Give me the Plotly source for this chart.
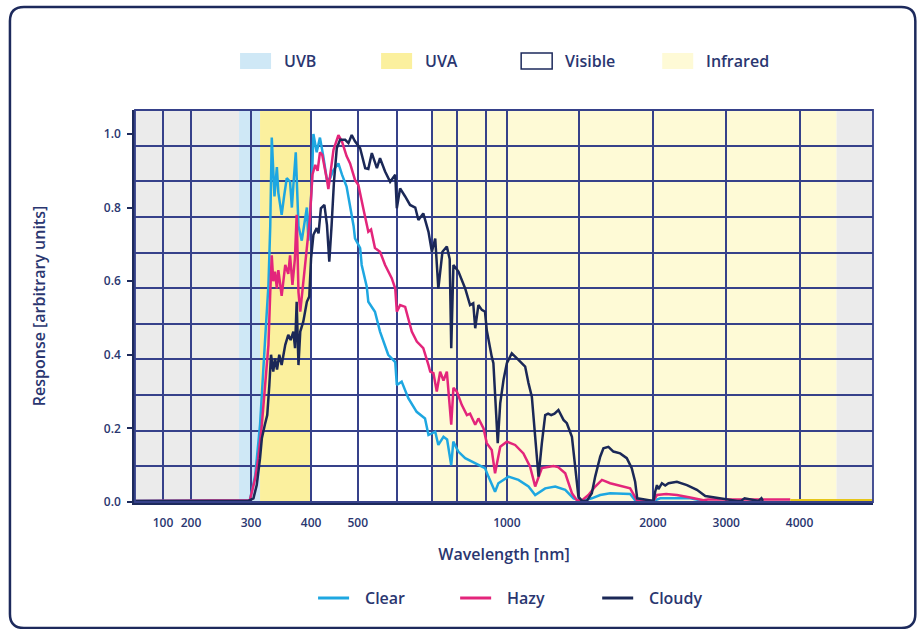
import numpy as np
import plotly.graph_objects as go

# ---- axis definition (piecewise wavelength scale of the original graphic) ----
AXIS_NM = [0, 100, 200, 300, 400, 500, 600, 700, 800, 900, 1000, 1500, 2000, 3000, 4000, 5000]
AXIS_POS = [0, 28, 56, 116, 176, 222.7, 261.7, 296.5, 322.3, 351, 371.7, 444.3, 517.7, 591, 664.3, 737.7]

GRID_NM = [100, 200, 300, 400, 500, 600, 700, 800, 900, 1000, 1500, 2000, 3000, 4000]
GRID_TEXT = ["100", "200", "300", "400", "500", "", "", "", "", "1000", "", "2000", "3000", "4000"]
Y_TICKS = [0.0, 0.2, 0.4, 0.6, 0.8, 1.0]
Y_MAX = 1.065
Y_GRID_ROWS = 11

# ---- spectral bands ----
BAND_NAMES = ["UVB", "UVA", "Visible", "Infrared"]
BAND_START = [280, 315, 400, 700]
BAND_END = [315, 400, 700, 4500]
OUT_START = [0, 4500]
OUT_END = [280, 5000]

# ---- series ----
CLEAR_NM = [0, 295, 298, 307, 315, 323, 329, 332, 334.5, 339, 343, 345.5, 351, 355, 359.5, 365, 368,
            370.5, 374.5, 379, 384.5, 393, 395.5, 401.5, 405, 412, 419, 426, 434, 441, 447, 458.5, 466,
            476, 491, 494, 506, 510, 523, 527, 544, 557, 578, 596, 600, 614, 633, 657, 681, 691, 714,
            726, 746, 760, 776, 784, 803, 827, 850, 873, 896, 911, 943, 959, 1011, 1080, 1149, 1195,
            1264, 1333, 1402, 1459, 1516, 1584, 1641, 1709, 1845, 1879, 2004, 2100, 2509, 2645, 2700]
CLEAR_Y = [0.003, 0.003, 0.005, 0.073, 0.21, 0.43, 0.59, 0.75, 0.99, 0.83, 0.91, 0.84, 0.78, 0.83, 0.88,
           0.87, 0.80, 0.86, 0.95, 0.75, 0.71, 0.80, 0.71, 0.86, 1.0, 0.95, 0.99, 0.94, 0.875, 0.88, 0.90,
           0.92, 0.89, 0.857, 0.75, 0.716, 0.69, 0.644, 0.585, 0.544, 0.517, 0.463, 0.40, 0.38, 0.318,
           0.327, 0.282, 0.245, 0.227, 0.182, 0.191, 0.155, 0.177, 0.17, 0.10, 0.164, 0.137, 0.119, 0.11,
           0.10, 0.092, 0.069, 0.028, 0.051, 0.069, 0.06, 0.042, 0.019, 0.037, 0.042, 0.033, 0.01, 0.003,
           0.01, 0.019, 0.024, 0.022, 0.005, 0.003, 0.01, 0.01, 0.005, 0.003]

HAZY_NM = [0, 295, 298, 307, 312, 318, 323, 329, 332, 334.5, 337, 340, 343, 345.5, 351, 357, 362, 365,
           369, 373, 376, 379, 382, 387, 393, 398, 403, 409, 414, 419, 424, 430, 434, 437, 448, 458.5,
           466, 476, 483.5, 494, 501.5, 514, 527, 534, 544, 557, 570, 587, 596, 600, 609.5, 624, 643,
           657.5, 676, 691, 696, 707, 720, 733, 746, 759, 772, 776, 784.5, 798, 815, 833, 844, 862, 873,
           891, 903, 927, 943, 968, 1000, 1057, 1114, 1160, 1195, 1241, 1321, 1353, 1402, 1448, 1482,
           1518, 1561, 1607, 1653, 1709, 1845, 1879, 1893, 2008, 2055, 2181, 2327, 2509, 2690, 2750, 3873]
HAZY_Y = [0.003, 0.003, 0.005, 0.065, 0.119, 0.21, 0.318, 0.427, 0.57, 0.67, 0.60, 0.626, 0.58, 0.63,
          0.56, 0.644, 0.62, 0.67, 0.59, 0.66, 0.78, 0.57, 0.517, 0.60, 0.68, 0.77, 0.89, 0.916, 0.90,
          0.95, 0.943, 0.907, 0.875, 0.85, 0.957, 0.997, 0.98, 0.94, 0.92, 0.875, 0.861, 0.798, 0.734,
          0.74, 0.69, 0.68, 0.644, 0.608, 0.58, 0.517, 0.535, 0.53, 0.463, 0.436, 0.418, 0.372, 0.354,
          0.35, 0.30, 0.354, 0.33, 0.354, 0.245, 0.21, 0.31, 0.30, 0.264, 0.236, 0.24, 0.21, 0.227, 0.20,
          0.16, 0.141, 0.078, 0.15, 0.164, 0.155, 0.132, 0.096, 0.042, 0.092, 0.098, 0.095, 0.078, 0.024,
          0.005, 0.005, 0.019, 0.042, 0.06, 0.051, 0.037, 0.01, 0.003, 0.003, 0.019, 0.022, 0.019, 0.012,
          0.005, 0.007, 0.007]

CLOUDY_NM = [0, 295.5, 304, 309.5, 315, 318, 323, 327, 330.5, 333.3, 337, 340, 343.3, 347, 351, 357,
             362, 366, 370.5, 373.3, 376, 379, 382, 387, 393, 397, 400, 405, 412, 416, 421, 428.5, 434,
             439, 444, 449, 455, 462, 473, 480, 487, 494, 500, 506, 519, 527, 536, 549, 557, 570, 583,
             596, 600, 609.5, 624, 638, 653, 662, 676, 691, 701, 714, 726, 742, 759, 770, 776, 784.5,
             803.5, 827, 844, 855, 862, 873, 885, 896, 903, 911, 927, 935, 943.5, 956, 968, 984, 1000,
             1034, 1080, 1126, 1149, 1172, 1195, 1218, 1241, 1264, 1284, 1305, 1328, 1355, 1390, 1413,
             1448, 1470, 1493, 1518, 1550, 1584, 1607, 1641, 1663, 1697, 1731, 1777, 1822, 1856, 1879,
             1893, 1982, 2008, 2031, 2055, 2076, 2123, 2168, 2213, 2327, 2464, 2600, 2714, 3150, 3200,
             3250, 3400, 3440, 3480, 3500]
CLOUDY_Y = [0.003, 0.003, 0.01, 0.046, 0.119, 0.173, 0.21, 0.236, 0.318, 0.40, 0.354, 0.39, 0.36, 0.40,
            0.372, 0.427, 0.454, 0.44, 0.463, 0.418, 0.544, 0.372, 0.463, 0.49, 0.544, 0.558, 0.662,
            0.726, 0.744, 0.73, 0.798, 0.807, 0.753, 0.653, 0.753, 0.87, 0.961, 0.984, 0.984, 0.975,
            0.997, 0.98, 0.97, 0.961, 0.907, 0.905, 0.948, 0.907, 0.934, 0.898, 0.87, 0.889, 0.798, 0.852,
            0.83, 0.807, 0.80, 0.766, 0.784, 0.734, 0.68, 0.716, 0.58, 0.68, 0.694, 0.66, 0.418, 0.644,
            0.626, 0.58, 0.535, 0.54, 0.472, 0.535, 0.522, 0.517, 0.467, 0.44, 0.395, 0.377, 0.286, 0.16,
            0.268, 0.332, 0.377, 0.404, 0.386, 0.368, 0.323, 0.286, 0.177, 0.069, 0.16, 0.236, 0.24, 0.236,
            0.24, 0.25, 0.223, 0.214, 0.177, 0.087, 0.014, 0.003, 0.003, 0.024, 0.069, 0.123, 0.146,
            0.15, 0.137, 0.132, 0.119, 0.092, 0.055, 0.01, 0.003, 0.003, 0.028, 0.046, 0.035, 0.051,
            0.045, 0.051, 0.055, 0.046, 0.033, 0.016, 0.003, 0.003, 0.01, 0.003, 0.003, 0.01, 0.003, 0.003]

TAIL_NM = [3873, 5000]
TAIL_Y = [0.005, 0.005]

SERIES_NAMES = ["Clear", "Hazy", "Cloudy"]

# ---- styling ----
NAVY = "#1d2a5c"
TEXT = "#2a3670"
GRID = "#36418a"
C_CLEAR = "#1ea7e1"
C_HAZY = "#e3257b"
C_CLOUDY = "#1b2857"
BAND_COLORS = ["#cfe8f6", "#fbf09e", "#ffffff", "#fefad6"]
OUT_COLOR = "#ebebeb"
FONT = "Open Sans"

W, H = 917, 629
L, R, T, B = 135, 44.3, 110, 127
PW, PH = W - L - R, H - T - B


def to_pos(nm):
    return np.interp(np.asarray(nm, dtype=float), AXIS_NM, AXIS_POS)


def px(x):
    return (x - L) / PW


def py(y):
    return (H - B - y) / PH


fig = go.Figure()

for nm, yv, col, name in [(CLEAR_NM, CLEAR_Y, C_CLEAR, "Clear"),
                          (HAZY_NM, HAZY_Y, C_HAZY, "Hazy"),
                          (CLOUDY_NM, CLOUDY_Y, C_CLOUDY, "Cloudy")]:
    fig.add_trace(go.Scatter(x=to_pos(nm), y=yv, mode="lines", name=name,
                             line=dict(color=col, width=2.5), showlegend=False))
fig.add_trace(go.Scatter(x=to_pos(TAIL_NM), y=TAIL_Y, mode="lines", name="",
                         line=dict(color="#e6c619", width=2.2), showlegend=False, hoverinfo="skip"))

shapes = []
for a, b in zip(OUT_START, OUT_END):
    shapes.append(dict(type="rect", xref="x", yref="paper", x0=float(to_pos(a)), x1=float(to_pos(b)),
                       y0=0, y1=1, fillcolor=OUT_COLOR, line=dict(width=0), layer="below"))
for a, b, c in zip(BAND_START, BAND_END, BAND_COLORS):
    shapes.append(dict(type="rect", xref="x", yref="paper", x0=float(to_pos(a)), x1=float(to_pos(b)),
                       y0=0, y1=1, fillcolor=c, line=dict(width=0), layer="below"))
# plot box outline
shapes.append(dict(type="rect", xref="paper", yref="paper", x0=0, x1=1, y0=0, y1=1,
                   line=dict(color=GRID, width=1.8), fillcolor="rgba(0,0,0,0)", layer="above"))

annotations = []
# top legend (bands)
band_swatch_x = [240, 381, 521, 662]
for name, c, sx in zip(BAND_NAMES, BAND_COLORS, band_swatch_x):
    line = dict(color=NAVY, width=1.5) if name == "Visible" else dict(width=0)
    shapes.append(dict(type="rect", xref="paper", yref="paper", x0=px(sx), x1=px(sx + 31),
                       y0=py(69), y1=py(53), fillcolor=c, line=line))
    annotations.append(dict(text=name, xref="paper", yref="paper", x=px(sx + 42), y=py(61),
                            xanchor="left", yanchor="middle", showarrow=False,
                            font=dict(family=FONT, size=16, color=TEXT, weight=600)))
# bottom legend (series)
series_x = [318, 460, 602]
for name, c, sx in zip(SERIES_NAMES, [C_CLEAR, C_HAZY, C_CLOUDY], series_x):
    shapes.append(dict(type="line", xref="paper", yref="paper", x0=px(sx), x1=px(sx + 31),
                       y0=py(598), y1=py(598), line=dict(color=c, width=3)))
    annotations.append(dict(text=name, xref="paper", yref="paper", x=px(sx + 45), y=py(598),
                            xanchor="left", yanchor="middle", showarrow=False,
                            font=dict(family=FONT, size=16, color=TEXT, weight=600)))

# rounded outer frame
fx0, fy0, fx1, fy1, r = 10, 7, 915, 628, 14
pts = [("M", fx0 + r, fy0), ("L", fx1 - r, fy0), ("Q", fx1, fy0, fx1, fy0 + r), ("L", fx1, fy1 - r),
       ("Q", fx1, fy1, fx1 - r, fy1), ("L", fx0 + r, fy1), ("Q", fx0, fy1, fx0, fy1 - r),
       ("L", fx0, fy0 + r), ("Q", fx0, fy0, fx0 + r, fy0)]
path = ""
for p in pts:
    cmd = p[0]
    coords = p[1:]
    s = " ".join(f"{px(coords[i]):.5f},{py(coords[i + 1]):.5f}" for i in range(0, len(coords), 2))
    path += f"{cmd} {s} "
path += "Z"
shapes.append(dict(type="path", xref="paper", yref="paper", path=path,
                   line=dict(color=NAVY, width=2.5), fillcolor="rgba(0,0,0,0)"))

fig.update_layout(
    width=W, height=H, autosize=False,
    margin=dict(l=L, r=R, t=T, b=B, pad=0),
    paper_bgcolor="white", plot_bgcolor="white",
    font=dict(family=FONT, color=TEXT),
    shapes=shapes, annotations=annotations, showlegend=False,
    xaxis=dict(range=[0, AXIS_POS[-1]], tickmode="array", tickvals=to_pos(GRID_NM), ticktext=GRID_TEXT,
               showgrid=True, gridcolor=GRID, gridwidth=1.7, zeroline=False,
               showline=True, linecolor=NAVY, linewidth=2.5, ticks="",
               tickfont=dict(family=FONT, size=12, color=TEXT, weight=600), ticklabelstandoff=8,
               title=dict(text="Wavelength [nm]", standoff=19,
                          font=dict(family=FONT, size=16, color=TEXT, weight=600)),
               automargin=False, fixedrange=True),
    yaxis=dict(range=[0, Y_MAX], tickmode="array", tickvals=Y_TICKS, tickformat=".1f",
               showgrid=False, zeroline=False, showline=True, linecolor=NAVY, linewidth=2.5,
               ticks="outside", ticklen=5, tickwidth=1.5, tickcolor=NAVY,
               tickfont=dict(family=FONT, size=12, color=TEXT, weight=600), ticklabelstandoff=4,
               minor=dict(tick0=0, dtick=Y_MAX / Y_GRID_ROWS, showgrid=True, gridcolor=GRID,
                          gridwidth=1.7, ticks=""),
               title=dict(text="Response [arbitrary units]", standoff=55,
                          font=dict(family=FONT, size=16, color=TEXT, weight=600)),
               automargin=False, fixedrange=True),
)

fig.write_html("out.html")
